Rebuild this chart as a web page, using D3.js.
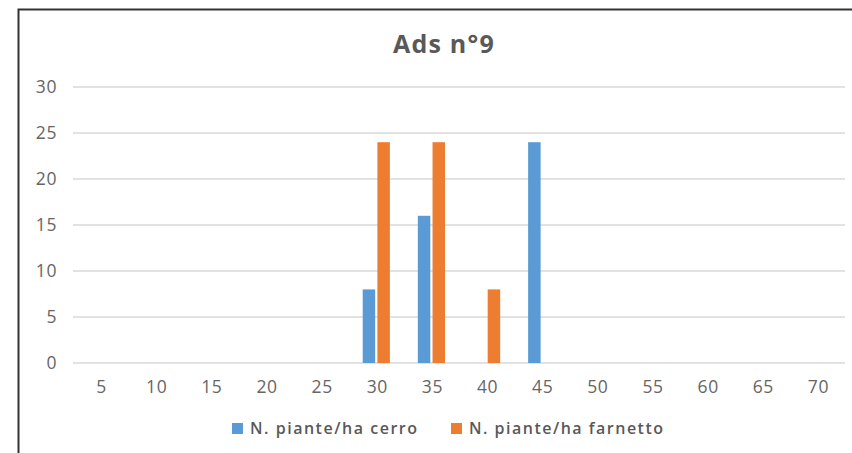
<!DOCTYPE html>
<html><head><meta charset="utf-8">
<script src="https://cdn.jsdelivr.net/npm/d3@7"></script>
<style>body{margin:0;background:#fff;}svg{display:block;font-family:"Open Sans",sans-serif;}</style>
</head><body><svg id="c" width="852" height="453"></svg>
<script>
const categories = ["5","10","15","20","25","30","35","40","45","50","55","60","65","70"];
const seriesNames = ["N. piante/ha cerro","N. piante/ha farnetto"];
const cerro =    [0,0,0,0,0,8,16,0,24,0,0,0,0,0];
const farnetto = [0,0,0,0,0,24,24,8,0,0,0,0,0,0];
const yTicks = [0,5,10,15,20,25,30];
const colors = ["#5B9BD5","#ED7D31"];

const svg = d3.select("#c");
// frame
svg.append("path").attr("d","M18.5,453 V9.5 H852").attr("fill","none").attr("stroke","#333").attr("stroke-width",2);

const m = {l:73, r:845, t:87, b:363};
const x = d3.scaleBand().domain(categories).range([m.l,m.r]).paddingInner(0).paddingOuter(0);
const y = d3.scaleLinear().domain([0,30]).range([m.b,m.t]);
const inner = d3.scaleBand().domain([0,1]).range([x.bandwidth()/2-13.6, x.bandwidth()/2+13.6]).paddingInner(0.15);

// grid
svg.append("g").selectAll("line").data(yTicks).join("line")
  .attr("x1",m.l).attr("x2",m.r).attr("y1",d=>y(d)).attr("y2",d=>y(d))
  .attr("stroke","#d9d9d9").attr("stroke-width",1.3);

const yAxis = d3.axisLeft(y).tickValues(yTicks).tickSize(0).tickPadding(0);
svg.append("g").attr("transform","translate(57,0)").call(yAxis)
  .call(g=>g.select(".domain").remove())
  .selectAll("text").attr("font-size",17.5).attr("fill","#666").attr("letter-spacing",0.6).attr("font-family","Open Sans, sans-serif");

const xAxis = d3.axisBottom(x).tickSize(0).tickPadding(0);
svg.append("g").attr("transform","translate(1,381)").call(xAxis)
  .call(g=>g.select(".domain").remove())
  .selectAll("text").attr("font-size",17.5).attr("fill","#666").attr("letter-spacing",0.6).attr("dy","0.71em").attr("font-family","Open Sans, sans-serif");

const data = [cerro, farnetto];
data.forEach((vals,si)=>{
  svg.append("g").selectAll("rect").data(vals.map((v,i)=>({v,c:categories[i]})).filter(d=>d.v>0)).join("rect")
    .attr("x",d=>x(d.c)+inner(si)).attr("width",inner.bandwidth())
    .attr("y",d=>y(d.v)).attr("height",d=>y(0)-y(d.v)).attr("fill",colors[si]);
});

svg.append("text").attr("x",444).attr("y",53).attr("text-anchor","middle")
  .attr("font-size",25).attr("font-weight",700).attr("letter-spacing",1.2).attr("fill","#595959").text("Ads n°9");

const legX = [232, 451];
const legW = [167, 194];
seriesNames.forEach((n,i)=>{
  svg.append("rect").attr("x",legX[i]).attr("y",423).attr("width",11).attr("height",11).attr("fill",colors[i]);
  svg.append("text").attr("x",legX[i]+18).attr("y",434).attr("font-size",16).attr("font-weight",600)
    .attr("fill","#595959").attr("textLength",legW[i]).attr("lengthAdjust","spacing").text(n);
});
</script></body></html>
